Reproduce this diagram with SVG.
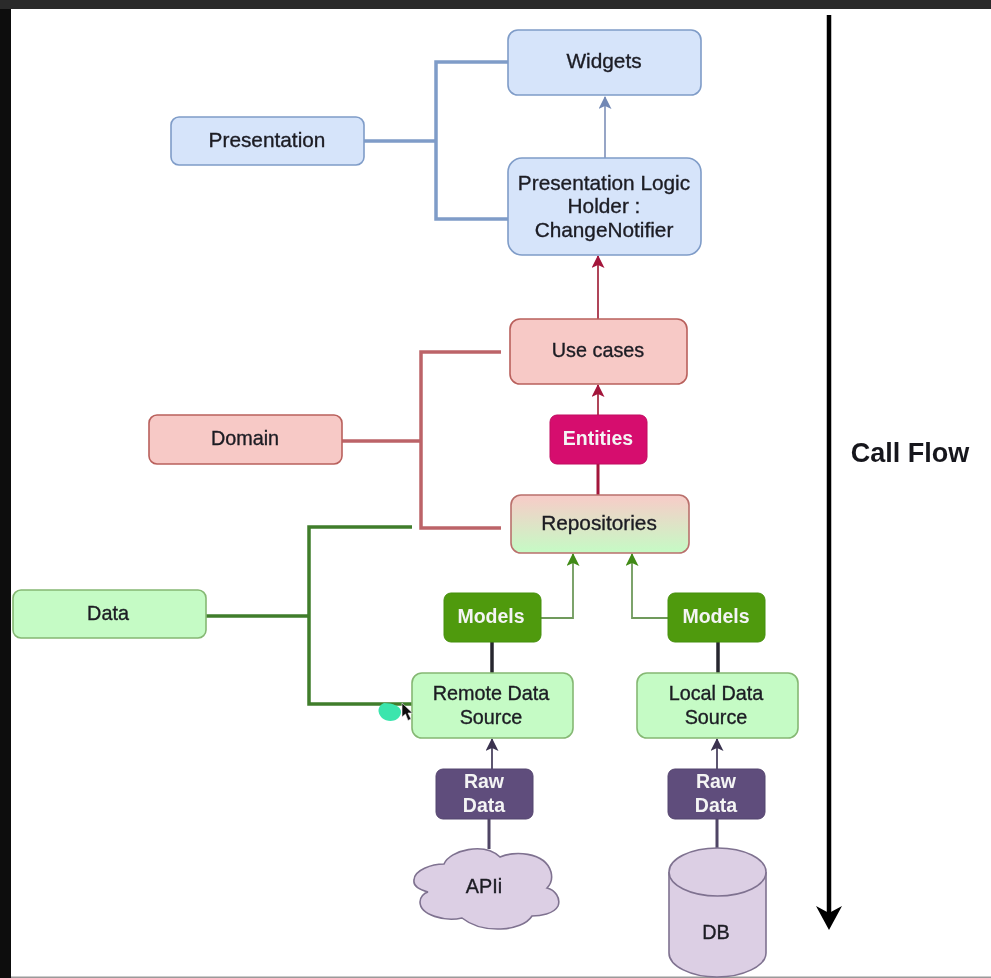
<svg xmlns="http://www.w3.org/2000/svg" width="991" height="978" viewBox="0 0 991 978">
<style>
text{font-family:"Liberation Sans",Arial,sans-serif;font-size:20.8px;text-anchor:middle;fill:#1c1c24;stroke:#1c1c24;stroke-width:.35px}
text.s{font-size:19.8px}
text.w{fill:#f4f4f4;stroke:#f4f4f4;font-weight:bold;font-size:19.500px;stroke-width:0}
.blue rect{fill:#d6e4fa;stroke:#7f9cc8;stroke-width:1.6}
.red rect{fill:#f7c9c6;stroke:#b9605c;stroke-width:1.6}
.green rect{fill:#c5fbc5;stroke:#85b873;stroke-width:1.6}
.ent rect{fill:#d60a6e;stroke:#c0095f}
.mod rect{fill:#4f9a10;stroke:#47900d}
.raw rect{fill:#5f4e7c;stroke:#54446e}
.pur{fill:#dccfe4;stroke:#7f7290;stroke-width:1.6}
.c{fill:none}
</style>
<defs>
<linearGradient id="rg" x1="0" y1="0" x2="0" y2="1"><stop offset="0" stop-color="#f8cbc8"/><stop offset="1" stop-color="#c5fbc5"/></linearGradient>
<filter id="soft" x="0" y="0" width="100%" height="100%"><feGaussianBlur stdDeviation="0.45"/></filter>
<marker id="ab" markerWidth="14" markerHeight="14" refX="12" refY="6.500" orient="auto" markerUnits="userSpaceOnUse"><path d="M0 0L13 6.500L0 13L3 6.500Z" fill="#7288b5"/></marker>
<marker id="ar" markerWidth="14" markerHeight="14" refX="12" refY="6.500" orient="auto" markerUnits="userSpaceOnUse"><path d="M0 0L13 6.500L0 13L3 6.500Z" fill="#a3123a"/></marker>
<marker id="ag" markerWidth="14" markerHeight="14" refX="12" refY="6.500" orient="auto" markerUnits="userSpaceOnUse"><path d="M0 0L13 6.500L0 13L3 6.500Z" fill="#3f8a14"/></marker>
<marker id="ad" markerWidth="14" markerHeight="14" refX="12" refY="6.500" orient="auto" markerUnits="userSpaceOnUse"><path d="M0 0L13 6.500L0 13L3 6.500Z" fill="#3a3350"/></marker>
</defs>
<g filter="url(#soft)">
<rect width="991" height="978" fill="#fff"/>
<rect width="991" height="9" fill="#2b2b2b"/>
<rect y="9" width="11" height="969" fill="#0c0c0c"/>
<rect x="11" y="976.500" width="980" height="1.500" fill="#9a9a9a"/>

<g id="connectors" class="c">
<path d="M364 141H436M508 62H436V219H508" stroke="#7f9cc8" stroke-width="3.500"/>
<path d="M605 158V97" stroke="#8c9cc0" stroke-width="1.800" marker-end="url(#ab)"/>
<path d="M598 319V256" stroke="#a83048" stroke-width="1.800" marker-end="url(#ar)"/>
<path d="M342 441H421M501 352H421V528H501" stroke="#bc6468" stroke-width="3.500"/>
<path d="M598 415V385" stroke="#a83048" stroke-width="1.800" marker-end="url(#ar)"/>
<path d="M598 464V495" stroke="#a3123a" stroke-width="3"/>
<path d="M206 616H309M412 527H309V704H412" stroke="#3f7d2c" stroke-width="3.500"/>
<path d="M541 618H573V554" stroke="#6f9a5c" stroke-width="1.800" marker-end="url(#ag)"/>
<path d="M668 618H632V554" stroke="#6f9a5c" stroke-width="1.800" marker-end="url(#ag)"/>
<path d="M492 642V673M718 642V673" stroke="#27272f" stroke-width="3.500"/>
<path d="M492 769V739" stroke="#4b4560" stroke-width="1.800" marker-end="url(#ad)"/>
<path d="M717 769V739" stroke="#4b4560" stroke-width="1.800" marker-end="url(#ad)"/>
<path d="M489 819V849M717 819V849" stroke="#4f4565" stroke-width="3"/>
<path d="M829 15V922" stroke="#000" stroke-width="4.500"/>
<path d="M816 906L829 913L842 906L829 930Z" fill="#000"/>
</g>

<g id="widgets" class="blue"><rect x="508" y="30" width="193" height="65" rx="10"/><text x="604" y="68">Widgets</text></g>
<g id="presentation" class="blue"><rect x="171" y="117" width="193" height="48" rx="8"/><text x="267" y="147">Presentation</text></g>
<g id="logic-holder" class="blue"><rect x="508" y="158" width="193" height="97" rx="14"/><text x="604" y="190">Presentation Logic</text><text x="604" y="213">Holder :</text><text x="604" y="237">ChangeNotifier</text></g>

<g id="use-cases" class="red"><rect x="510" y="319" width="177" height="65" rx="10"/><text class="s" x="598" y="357">Use cases</text></g>
<g id="domain" class="red"><rect x="149" y="415" width="193" height="49" rx="8"/><text class="s" x="245" y="445">Domain</text></g>
<g id="entities" class="ent"><rect x="550" y="415" width="97" height="49" rx="7"/><text class="w" x="598" y="445">Entities</text></g>
<g id="repositories"><rect x="511" y="495" width="178" height="58" rx="10" fill="url(#rg)" stroke="#b9706c" stroke-width="1.600"/><text x="599" y="530">Repositories</text></g>

<g id="data" class="green"><rect x="13" y="590" width="193" height="48" rx="8"/><text class="s" x="108" y="620">Data</text></g>
<g id="models-remote" class="mod"><rect x="444" y="593" width="97" height="49" rx="7"/><text class="w" x="491" y="623">Models</text></g>
<g id="models-local" class="mod"><rect x="668" y="593" width="97" height="49" rx="7"/><text class="w" x="716" y="623">Models</text></g>
<g id="remote-data-source" class="green"><rect x="412" y="673" width="161" height="65" rx="10"/><text class="s" x="491" y="700">Remote Data</text><text class="s" x="491" y="724">Source</text></g>
<g id="local-data-source" class="green"><rect x="637" y="673" width="161" height="65" rx="10"/><text class="s" x="716" y="700">Local Data</text><text class="s" x="716" y="724">Source</text></g>
<g id="raw-remote" class="raw"><rect x="436" y="769" width="97" height="50" rx="7"/><text class="w" x="484" y="788">Raw</text><text class="w" x="484" y="812">Data</text></g>
<g id="raw-local" class="raw"><rect x="668" y="769" width="97" height="50" rx="7"/><text class="w" x="716" y="788">Raw</text><text class="w" x="716" y="812">Data</text></g>

<g id="api"><path class="pur" d="M414 880C414 870 432 864 444 864C450 850 484 842 500 857C512 851 545 851 551 872C553 880 550 885 547 888C555 890 561 898 558 906C554 914 540 916 532 916C522 932 482 934 462 918C445 922 420 915 420 902C420 897 424 893 428 892C420 890 413 886 414 880Z"/><text class="s" x="484" y="893">APIi</text></g>
<g id="db"><path class="pur" d="M669 872V953C669 966 691 977 717 977C743 977 766 966 766 953V872"/><ellipse class="pur" cx="717.500" cy="872" rx="48.500" ry="24"/><text class="s" x="716" y="939">DB</text></g>

<text x="910" y="462" style="font-size:27px;font-weight:bold;stroke-width:0;fill:#17171c">Call Flow</text>

<path d="M384 703C392 703 402 706 401 713C399 722 388 723 382 718C377 713 377 706 384 703Z" fill="#3be5ad"/>
<path d="M402 703V717L405.500 714L408 720.500L411 719L408 713H412.500Z" fill="#111" stroke="#eee" stroke-width=".6"/>
</g>
</svg>
